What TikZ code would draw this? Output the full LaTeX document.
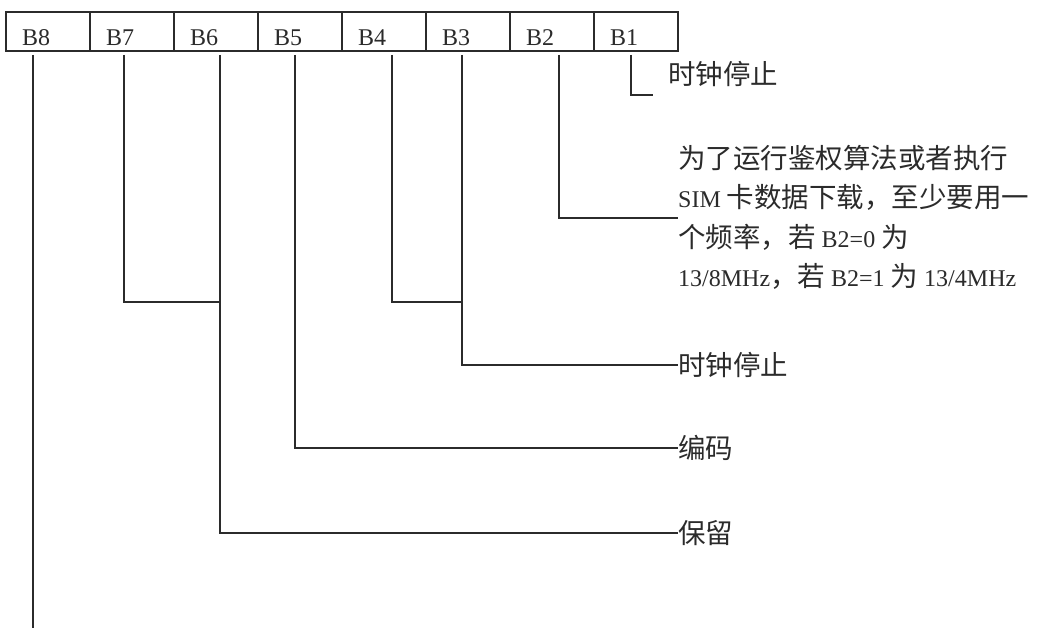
\documentclass[tikz,border=0pt]{standalone}
\usepackage{fontspec}
\setmainfont{Liberation Serif}
\newfontfamily\cjk{Noto Sans CJK SC}
\newcommand\zh{\cjk\fontsize{27.5}{39.5}\selectfont}
\definecolor{ink}{HTML}{2B2B2B}
\begin{document}
\begin{tikzpicture}[x=1pt,y=1pt,
  cell/.style={draw=ink, line width=1.5pt, outer sep=0pt, minimum width=84pt, minimum height=39pt,
    inner xsep=16pt, inner ysep=0pt, text width=52pt, align=left, text height=34pt, text depth=5pt,
    font=\fontsize{24}{28}\selectfont, text=ink, anchor=north west},
  wire/.style={draw=ink, line width=1.4pt},
  lbl/.style={inner sep=0pt, anchor=west, text=ink, font=\zh},
  note/.style={inner sep=0pt, anchor=north west, align=left, text=ink, font=\fontsize{24}{39.5}\selectfont}
]
\useasboundingbox (0,0) rectangle (1038,-628);
\fill[white] (0,0) rectangle (1038,-628);

% register cells
\node[cell] (b8) at (6,-12) {B8};
\node[cell] (b7) at (90,-12) {B7};
\node[cell] (b6) at (174,-12) {B6};
\node[cell] (b5) at (258,-12) {B5};
\node[cell] (b4) at (342,-12) {B4};
\node[cell] (b3) at (426,-12) {B3};
\node[cell] (b2) at (510,-12) {B2};
\node[cell] (b1) at (594,-12) {B1};

% labels
\node[lbl] (stop1) at (668,-73.5) {时钟停止};
\node[note] (freq) at (678,-145) {{\zh 为了运行鉴权算法或者执行}\\
SIM {\zh 卡数据下载，至少要用一}\\
{\zh 个频率，若} B2=0 {\zh 为}\\
13/8MHz{\zh ，若} B2=1 {\zh 为} 13/4MHz};
\node[lbl] (stop2) at (678,-365) {时钟停止};
\node[lbl] (code) at (678,-448) {编码};
\node[lbl] (keep) at (678,-533) {保留};

% junctions and free ends
\coordinate (e8) at (33,-628);
\coordinate (j6) at (220,-302);
\coordinate (j3) at (462,-302);
\coordinate (c2) at (678,-218);
\coordinate (e1) at (653,-95);

% connectors
\draw[wire] ([xshift=27pt,yshift=-4pt]b8.south west) -- (e8);
\draw[wire] ([xshift=34pt,yshift=-4pt]b7.south west) |- (j6);
\draw[wire] ([xshift=46pt,yshift=-4pt]b6.south west) |- (keep.west);
\draw[wire] ([xshift=37pt,yshift=-4pt]b5.south west) |- (code.west);
\draw[wire] ([xshift=50pt,yshift=-4pt]b4.south west) |- (j3);
\draw[wire] ([xshift=36pt,yshift=-4pt]b3.south west) |- (stop2.west);
\draw[wire] ([xshift=49pt,yshift=-4pt]b2.south west) |- (c2);
\draw[wire] ([xshift=37pt,yshift=-4pt]b1.south west) |- (e1);
\end{tikzpicture}
\end{document}
